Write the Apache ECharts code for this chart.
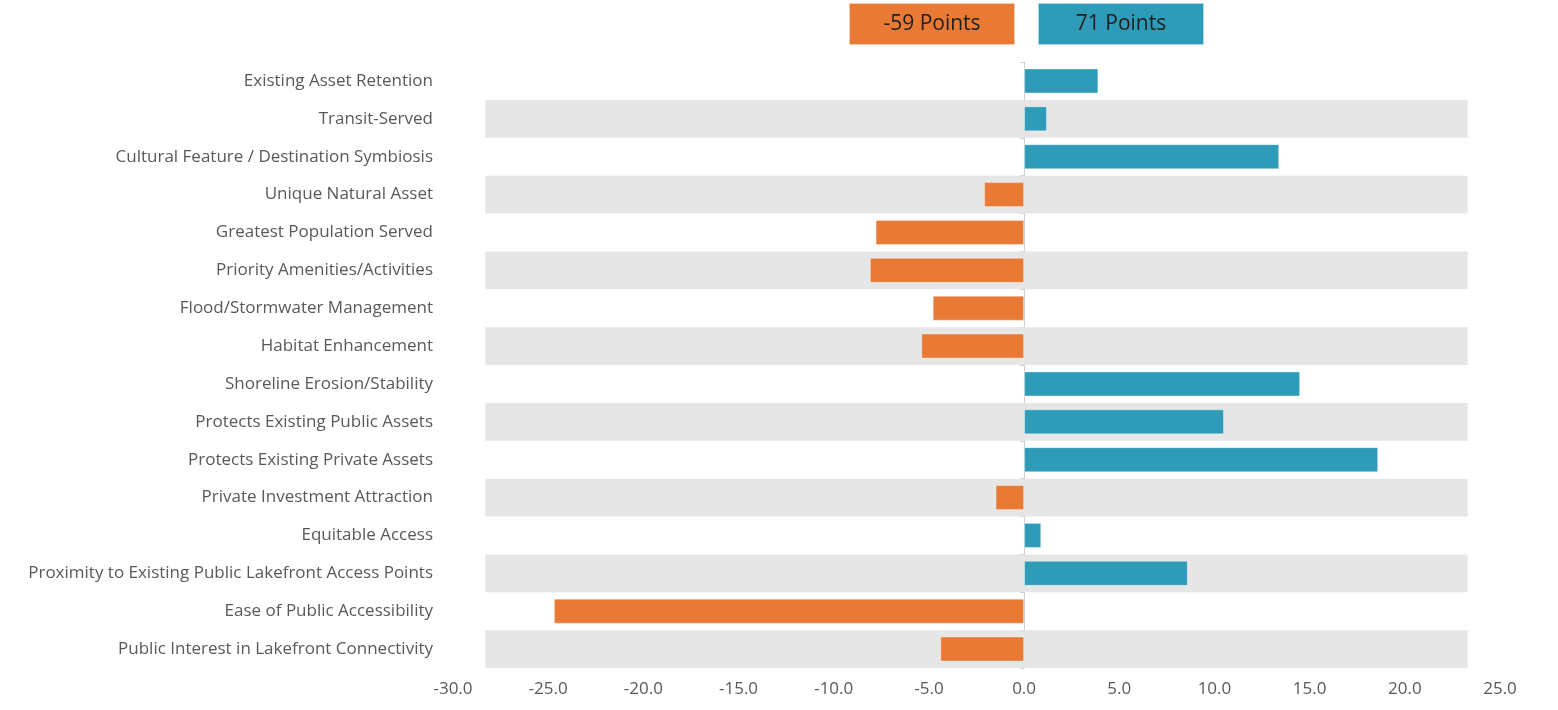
<!DOCTYPE html>
<html>
<head>
<meta charset="utf-8">
<script src="https://cdn.jsdelivr.net/npm/echarts@6/dist/echarts.min.js"></script>
<style>
  html, body { margin: 0; padding: 0; background: #ffffff; }
  #chart { width: 1558px; height: 710px; }
</style>
</head>
<body>
<div id="chart"></div>
<script>
// Criteria, listed top to bottom
const categories = [
  'Existing Asset Retention',
  'Transit-Served',
  'Cultural Feature / Destination Symbiosis',
  'Unique Natural Asset',
  'Greatest Population Served',
  'Priority Amenities/Activities',
  'Flood/Stormwater Management',
  'Habitat Enhancement',
  'Shoreline Erosion/Stability',
  'Protects Existing Public Assets',
  'Protects Existing Private Assets',
  'Private Investment Attraction',
  'Equitable Access',
  'Proximity to Existing Public Lakefront Access Points',
  'Ease of Public Accessibility',
  'Public Interest in Lakefront Connectivity'
];

// Score difference per criterion
const scores = [3.9, 1.2, 13.4, -2.1, -7.8, -8.1, -4.8, -5.4, 14.5, 10.5, 18.6, -1.5, 0.9, 8.6, -24.7, -4.4];

// Totals shown in the header boxes
const totalLabels = ['-59 Points', '71 Points'];

// Value axis range
const axisMin = -30;
const axisMax = 25;
const axisStep = 5;

const ORANGE = '#E97A36';
const TEAL = '#2E9BB8';
const BAND = '#E7E6E6';
const TEXT = '#595959';
const FONT = '"Open Sans", Lato, sans-serif';

// Striped background rows span this value range
const bandFrom = -28.3;
const bandTo = 23.3;
const bandNeg = categories.map((c, i) => (i % 2 === 1 ? bandFrom : null));
const bandPos = categories.map((c, i) => (i % 2 === 1 ? bandTo : null));

const chart = echarts.init(document.getElementById('chart'), null, { renderer: 'canvas' });

chart.setOption({
  backgroundColor: '#ffffff',
  animation: false,
  grid: { left: 453, right: 58, top: 62, bottom: 42, containLabel: false, outerBoundsMode: 'none' },
  xAxis: {
    type: 'value',
    min: axisMin,
    max: axisMax,
    interval: axisStep,
    axisLine: { show: false },
    axisTick: { show: false },
    splitLine: { show: false },
    axisLabel: {
      color: TEXT,
      fontFamily: FONT,
      fontSize: 17,
      margin: 13,
      formatter: v => v.toFixed(1)
    }
  },
  yAxis: [
    {
      // category labels along the left edge
      type: 'category',
      data: categories,
      inverse: true,
      position: 'left',
      axisLine: { show: false, onZero: false },
      axisTick: { show: false },
      splitLine: { show: false },
      axisLabel: {
        color: TEXT,
        fontFamily: FONT,
        fontSize: 17,
        margin: 20
      }
    },
    {
      // baseline at zero with its tick marks
      type: 'category',
      data: categories,
      inverse: true,
      position: 'left',
      axisLine: { show: true, onZero: true, lineStyle: { color: '#D0D0D0', width: 1 } },
      axisTick: { show: true, length: 4, lineStyle: { color: '#D0D0D0' } },
      axisLabel: { show: false },
      splitLine: { show: false }
    }
  ],
  series: [
    {
      name: 'band-left',
      type: 'bar',
      yAxisIndex: 0,
      data: bandNeg,
      barWidth: '100%',
      barGap: '-100%',
      silent: true,
      itemStyle: { color: BAND },
      z: 1
    },
    {
      name: 'band-right',
      type: 'bar',
      yAxisIndex: 0,
      data: bandPos,
      barWidth: '100%',
      barGap: '-100%',
      silent: true,
      itemStyle: { color: BAND },
      z: 1
    },
    {
      name: 'score',
      type: 'bar',
      yAxisIndex: 1,
      data: scores,
      barWidth: 25,
      itemStyle: {
        color: p => (p.value < 0 ? ORANGE : TEAL),
        borderColor: 'rgba(255,255,255,0.35)',
        borderWidth: 1
      },
      z: 3
    }
  ],
  graphic: [
    {
      type: 'rect',
      left: 849,
      top: 3,
      shape: { width: 165, height: 41 },
      style: { fill: ORANGE, stroke: '#F6C9A8', lineWidth: 1 },
      textContent: {
        style: { text: totalLabels[0], fill: '#1F1F1F', fontFamily: FONT, fontSize: 21 }
      },
      textConfig: { position: 'inside' }
    },
    {
      type: 'rect',
      left: 1038,
      top: 3,
      shape: { width: 165, height: 41 },
      style: { fill: TEAL, stroke: '#A9D8E6', lineWidth: 1 },
      textContent: {
        style: { text: totalLabels[1], fill: '#1F1F1F', fontFamily: FONT, fontSize: 21 }
      },
      textConfig: { position: 'inside' }
    }
  ]
});
</script>
</body>
</html>
